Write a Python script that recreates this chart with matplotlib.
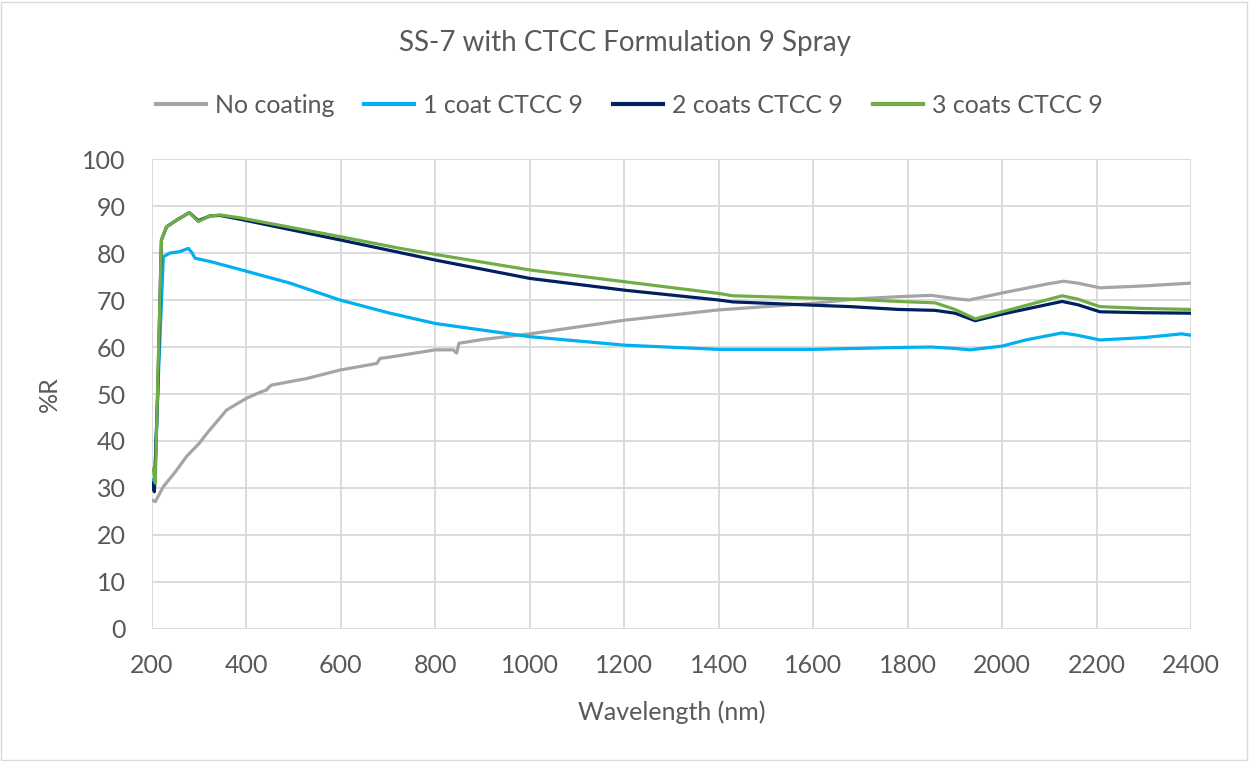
import matplotlib
matplotlib.use("Agg")
import matplotlib.pyplot as plt
from matplotlib.patches import Rectangle

plt.rcParams['font.family'] = ['Lato', 'DejaVu Sans']

# Datos (longitud de onda en nm, %R)
wl_none = [200, 207, 224, 250, 273, 300, 316, 358, 400, 425, 443, 448, 453, 528, 598, 676, 683, 700, 800,
           838, 845, 850, 900, 1000, 1200, 1400, 1600, 1700, 1780, 1850, 1900, 1930, 2000, 2100,
           2130, 2160, 2207, 2300, 2400]
r_none = [27.4, 27.1, 30.3, 33.5, 36.7, 39.5, 41.6, 46.6, 49.1, 50.2, 50.9, 51.5, 51.9, 53.3, 55.1, 56.5,
          57.6, 57.8, 59.4, 59.4, 58.7, 60.8, 61.6, 62.8, 65.7, 67.9, 69.3, 70.3, 70.7, 71.0, 70.3,
          70.0, 71.5, 73.5, 74.0, 73.6, 72.6, 73.0, 73.6]

wl_1coat = [200, 205, 214, 224, 238, 259, 277, 285, 291, 323, 379, 492, 598, 704, 800, 1000, 1200,
            1400, 1600, 1780, 1850, 1900, 1932, 2000, 2050, 2127, 2160, 2207, 2300, 2380, 2400]
r_1coat = [31.7, 30.0, 55.0, 79.2, 80.0, 80.3, 81.0, 80.0, 78.9, 78.2, 76.7, 73.6, 70.0, 67.2, 65.0,
           62.2, 60.4, 59.5, 59.5, 59.9, 60.0, 59.7, 59.4, 60.2, 61.5, 63.0, 62.5, 61.5, 62.0, 62.8, 62.5]

wl_2coats = [200, 205, 212, 220, 231, 252, 279, 298, 323, 344, 386, 598, 800, 1000, 1200, 1400,
             1430, 1600, 1678, 1780, 1858, 1900, 1943, 2000, 2127, 2160, 2207, 2300, 2400]
r_2coats = [31.0, 29.2, 50.0, 82.8, 85.6, 87.0, 88.6, 86.9, 87.9, 88.0, 87.2, 82.8, 78.5, 74.6, 72.1,
            70.0, 69.6, 68.9, 68.6, 68.0, 67.8, 67.2, 65.6, 67.0, 69.7, 69.0, 67.5, 67.3, 67.2]

wl_3coats = [200, 203, 207, 212, 220, 231, 252, 279, 298, 323, 344, 386, 598, 725, 800, 1000, 1200,
             1400, 1430, 1600, 1678, 1780, 1858, 1900, 1943, 2000, 2127, 2160, 2207, 2300, 2400]
r_3coats = [34.0, 33.8, 31.0, 52.0, 82.8, 85.6, 87.0, 88.6, 86.7, 87.9, 88.1, 87.5, 83.5, 81.0, 79.7,
            76.4, 73.9, 71.4, 70.9, 70.4, 70.2, 69.7, 69.4, 68.0, 66.0, 67.5, 70.9, 70.2, 68.6, 68.2, 68.0]

texto = '#595959'

fig = plt.figure(figsize=(12.49, 7.61), dpi=100)
ax = fig.add_axes([0.1217, 0.1735, 0.8319, 0.6175])

ax.plot(wl_none, r_none, color='#A5A5A5', lw=2.3, label='No coating')
ax.plot(wl_1coat, r_1coat, color='#00B0F0', lw=2.3, label='1 coat CTCC 9')
ax.plot(wl_2coats, r_2coats, color='#002060', lw=2.3, label='2 coats CTCC 9')
ax.plot(wl_3coats, r_3coats, color='#70AD47', lw=2.3, label='3 coats CTCC 9')

ax.set_xlim(200, 2400)
ax.set_ylim(0, 100)
ax.set_xticks(range(200, 2401, 200))
ax.set_yticks(range(0, 101, 10))
ax.grid(True, color='#D9D9D9', lw=1.3)
ax.set_axisbelow(True)
for s in ax.spines.values():
    s.set_visible(False)
ax.tick_params(length=0, labelsize=18, labelcolor=texto)
ax.tick_params(axis='y', pad=19)
ax.tick_params(axis='x', pad=18)

ax.set_xlabel('Wavelength (nm)', fontsize=18, color=texto, labelpad=17)
ax.set_ylabel('%R', fontsize=18, color=texto, labelpad=15)

fig.text(0.5, 0.943, 'SS-7 with CTCC Formulation 9 Spray', ha='center', va='center',
         fontsize=20, color=texto)

leg = fig.legend(loc='center', bbox_to_anchor=(0.504, 0.862), ncol=4, frameon=False,
                 fontsize=18, handlelength=2.0, columnspacing=1.2, handletextpad=0.36)
for t in leg.get_texts():
    t.set_color(texto)
for h in leg.get_lines():
    h.set_linewidth(3)

# Borde de la figura
fig.patches.append(Rectangle((0.001, 0.001), 0.997, 0.997, transform=fig.transFigure,
                             fill=False, edgecolor='#D9D9D9', lw=1))

fig.savefig('out.png', dpi=100)
plt.close(fig)
